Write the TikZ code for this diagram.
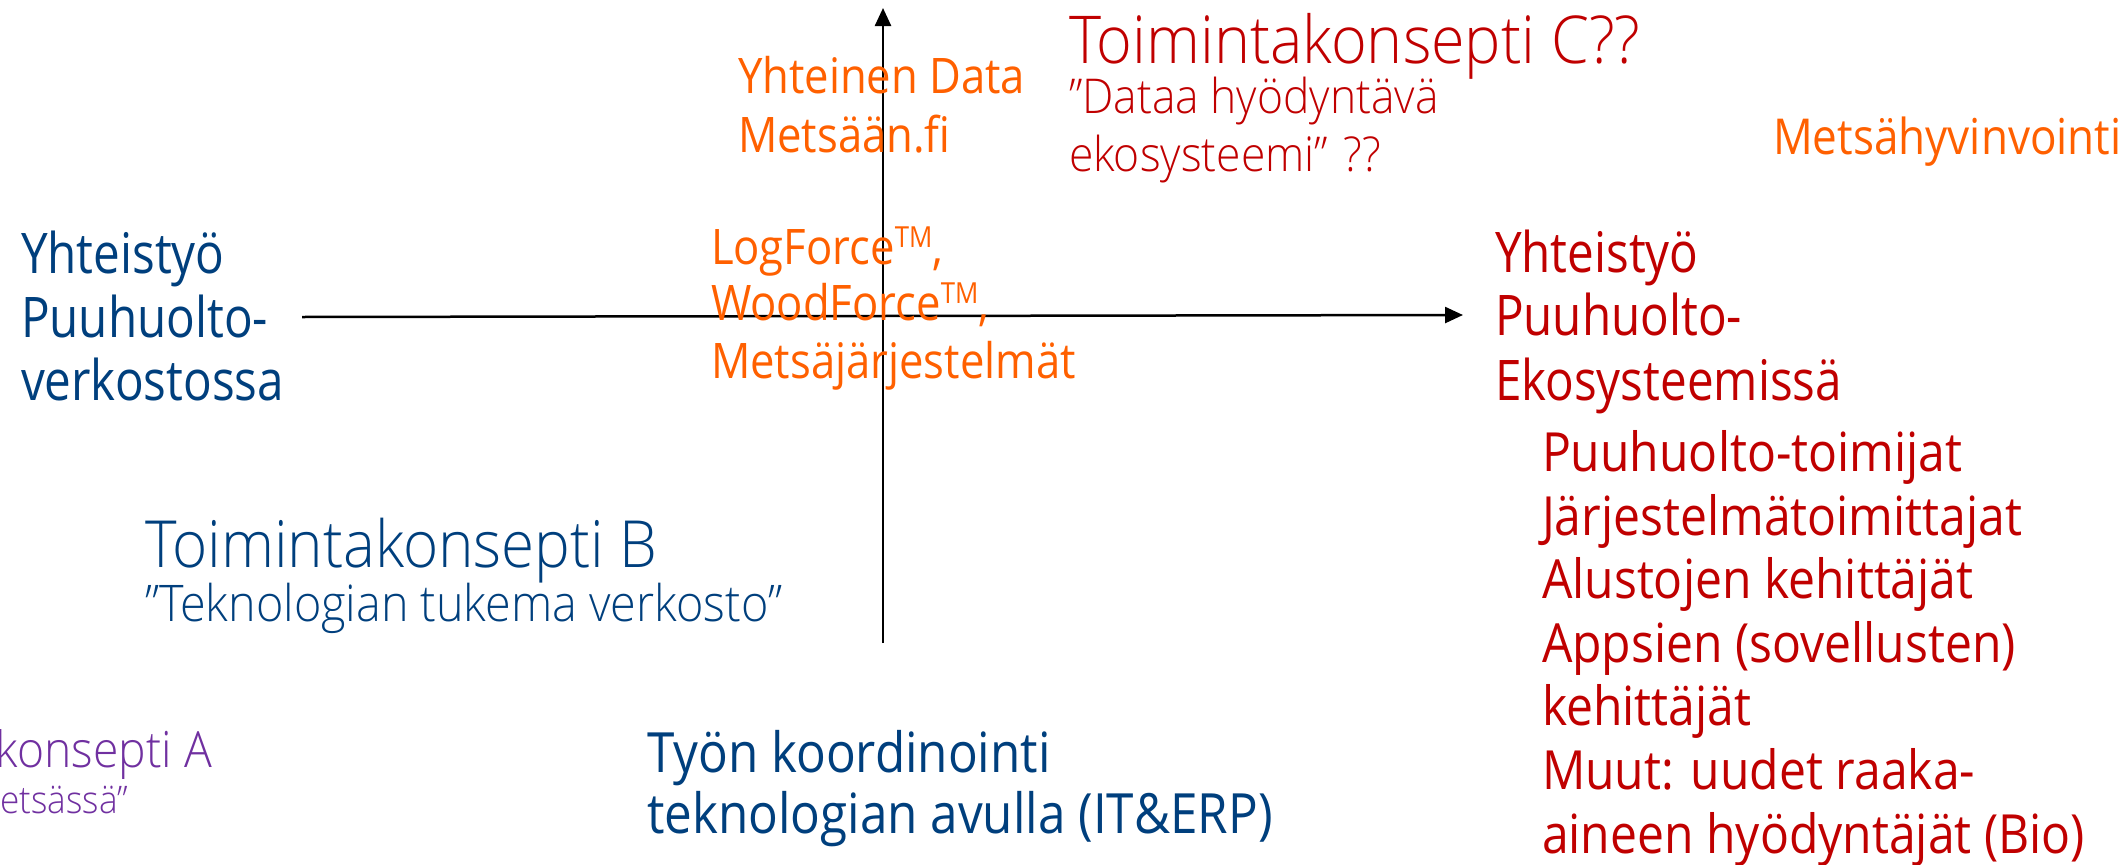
\documentclass[tikz,border=0pt]{standalone}
\usepackage{fontspec}
\setmainfont{Open Sans}[FakeStretch=0.89]
\newfontfamily\narrowfont{Open Sans}[FakeStretch=0.85]
\newfontfamily\lightfont{Open Sans Light}[FakeStretch=0.925]
\usetikzlibrary{arrows.meta}
\definecolor{cblue}{RGB}{0,63,125}
\definecolor{corange}{RGB}{255,96,0}
\definecolor{cred}{RGB}{192,0,0}
\definecolor{cpurple}{RGB}{112,48,160}
\tikzset{
  txt/.style={inner sep=0pt, outer sep=0pt, anchor=base west},
  axislbl/.style={txt, font=\narrowfont\fontsize{56}{64}\selectfont},
  listlbl/.style={txt, text=cred, font=\fontsize{54}{64}\selectfont},
  toolslbl/.style={txt, text=corange, font=\fontsize{49}{57}\selectfont},
  title/.style={txt, font=\lightfont\fontsize{66}{70}\selectfont},
  subtitle/.style={txt, font=\lightfont\fontsize{48}{58}\selectfont},
  axisline/.style={line width=2.5pt, -{Triangle[length=18pt,width=16pt]}},
}
\newcommand{\tmark}{\raisebox{17pt}{\fontsize{29}{29}\selectfont TM}}
\begin{document}
\begin{tikzpicture}[x=1pt,y=-1pt]
\useasboundingbox (0,0) rectangle (2121,865);
\clip (0,0) rectangle (2121,865);
% axes
\coordinate (vbot) at (883,643);
\coordinate (vtop) at (883,8);
\coordinate (hleft) at (302,317);
\coordinate (hright) at (1463,315);
\draw[axisline] (vbot) -- (vtop);
\draw[axisline] (hleft) -- (hright);
% left axis label
\node[axislbl, text=cblue] (l1) at (21,273) {Yhteistyö};
\node[axislbl, text=cblue] (l2) at (21,337) {Puuhuolto-};
\node[axislbl, text=cblue] (l3) at (21,400) {verkostossa};
% right axis label
\node[axislbl, text=cred] (r1) at (1495,272) {Yhteistyö};
\node[axislbl, text=cred] (r2) at (1495,335) {Puuhuolto-};
\node[axislbl, text=cred] (r3) at (1495,400) {Ekosysteemissä};
% list
\node[listlbl] (k1) at (1542,471) {Puuhuolto-toimijat};
\node[listlbl] (k2) at (1542,535) {Järjestelmätoimittajat};
\node[listlbl] (k3) at (1542,598) {Alustojen kehittäjät};
\node[listlbl] (k4) at (1542,662) {Appsien (sovellusten)};
\node[listlbl] (k5) at (1542,725) {kehittäjät};
\node[listlbl] (k6) at (1542,789) {Muut: uudet raaka-};
\node[listlbl] (k7) at (1542,853) {aineen hyödyntäjät (Bio)};
% tools
\node[toolslbl] (t1) at (711,264) {LogForce\tmark,};
\node[toolslbl] (t2) at (711,320) {WoodForce\tmark,};
\node[toolslbl] (t3) at (711,378) {Metsäjärjestelmät};
\node[toolslbl] (y1) at (738,93) {Yhteinen Data};
\node[toolslbl] (y2) at (738,152) {Metsään.fi};
\node[toolslbl, font=\fontsize{49.5}{57}\selectfont] (mh) at (1773,154) {Metsähyvinvointi};
% concept C
\node[title, text=cred] (c1) at (1069,63) {Toimintakonsepti C??};
\node[subtitle, text=cred] (c2) at (1069,113) {”Dataa hyödyntävä};
\node[subtitle, text=cred] (c3) at (1069,171) {ekosysteemi”\hspace{4pt} ??};
% concept B
\node[title, text=cblue, font=\lightfont\fontsize{65}{70}\selectfont] (b1) at (145,567) {Toimintakonsepti B};
\node[subtitle, text=cblue, font=\lightfont\fontsize{50.5}{58}\selectfont] (b2) at (145,621) {”Teknologian tukema verkosto”};
% concept A (cut at left edge)
\node[txt, anchor=base east, text=cpurple, font=\lightfont\fontsize{50}{57}\selectfont] (a1) at (212,767) {konsepti A};
\node[subtitle, anchor=base east, text=cpurple, font=\lightfont\fontsize{38}{57}\selectfont] (a2) at (128,813) {metsässä”};
% bottom axis label
\node[txt, text=cblue, font=\fontsize{55.5}{61}\selectfont] (w1) at (647,772) {Työn koordinointi};
\node[txt, text=cblue, font=\fontsize{55.5}{61}\selectfont] (w2) at (647,833) {teknologian avulla (IT\&ERP)};
\end{tikzpicture}
\end{document}
